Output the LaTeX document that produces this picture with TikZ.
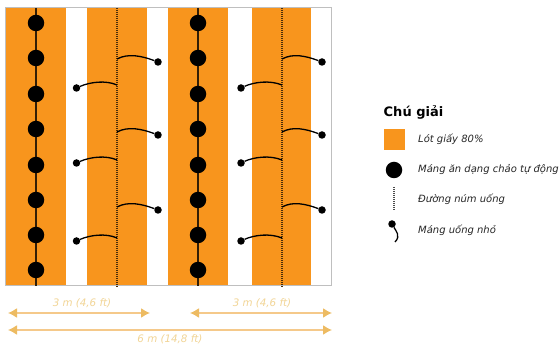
\documentclass[tikz,border=0pt]{standalone}
\usepackage{fontspec}
\setmainfont{DejaVu Sans}
\usetikzlibrary{arrows.meta}
\definecolor{paper}{HTML}{F8951D}
\definecolor{dimc}{HTML}{F5C98A}
\definecolor{dimh}{HTML}{EDBB62}
\definecolor{dimt}{HTML}{F2D596}
\tikzset{
 x=1pt,y=-1pt,
 stripe/.style={fill=paper,draw=none},
 feeder/.style={circle,fill=black,draw=none,minimum size=16.5pt,inner sep=0pt},
 cupdot/.style={circle,fill=black,draw=none,minimum size=7.5pt,inner sep=0pt},
 feedline/.style={line width=1.4pt,black!80!paper},
 nipple/.style={line width=1.5pt,black!70!paper,dash pattern=on 1pt off 1pt},
 cupline/.style={line width=1.3pt,black},
 legtext/.style={font=\fontsize{10}{12}\selectfont\itshape,anchor=west,inner sep=0pt,text=black!85},
 dimline/.style={line width=1.5pt,dimc,{Latex[length=9pt,width=10pt,color=dimh]}-{Latex[length=9pt,width=10pt,color=dimh]}},
 dimtext/.style={font=\fontsize{10.3}{12}\selectfont\itshape,text=dimt,inner sep=0pt},
}
\begin{document}
\begin{tikzpicture}
\useasboundingbox (0,0) rectangle (560,344);
\fill[white] (0,0) rectangle (560,344);
\foreach \a/\b in {6/66,87/147,168/228,252/311}{\fill[stripe] (\a,8) rectangle (\b,286);}
\draw[line width=1pt,black!25] (5.5,8) rectangle (331,286);
\coordinate (t1) at (36,8); \coordinate (b1) at (36,286);
\coordinate (t2) at (198,8); \coordinate (b2) at (198,286);
\coordinate (n1t) at (117,8); \coordinate (n1b) at (117,287);
\coordinate (n2t) at (282,8); \coordinate (n2b) at (282,287);
\draw[feedline] (t1)--(b1);
\draw[feedline] (t2)--(b2);
\draw[nipple] (n1t)--(n1b);
\draw[nipple] (n2t)--(n2b);
\foreach \y [count=\i] in {23,58,94,129,165,200,235,270}{
 \node[feeder] (fa\i) at (36,\y) {};
 \node[feeder] (fb\i) at (198,\y) {};
}
% left cups
\foreach \y [count=\i] in {88,163,241}{
 \node[cupdot] (la\i) at (76.5,\y) {};
 \node[cupdot] (lb\i) at (241,\y) {};
 \coordinate (lae\i) at (117,\y-3);
 \coordinate (lbe\i) at (282,\y-3);
 \draw[cupline] (la\i) .. controls (90,\y-6) and (106,\y-8) .. (lae\i);
 \draw[cupline] (lb\i) .. controls (254,\y-6) and (270,\y-8) .. (lbe\i);
}
% right cups
\foreach \y [count=\i] in {62,135,210}{
 \node[cupdot] (ra\i) at (158,\y) {};
 \node[cupdot] (rb\i) at (322,\y) {};
 \coordinate (rae\i) at (117,\y-3);
 \coordinate (rbe\i) at (282,\y-3);
 \draw[cupline] (rae\i) .. controls (128,\y-9) and (142,\y-6) .. (ra\i);
 \draw[cupline] (rbe\i) .. controls (293,\y-9) and (306,\y-6) .. (rb\i);
}
% dimensions
\coordinate (d1a) at (8,313); \coordinate (d1b) at (150,313);
\coordinate (d2a) at (190,313); \coordinate (d2b) at (332,313);
\coordinate (d3a) at (8,330); \coordinate (d3b) at (332,330);
\draw[dimline] (d1a)--(d1b);
\draw[dimline] (d2a)--(d2b);
\draw[dimline] (d3a)--(d3b);
\node[dimtext] (l1) at (82,303) {3 m (4,6 ft)};
\node[dimtext] (l2) at (262,303) {3 m (4,6 ft)};
\node[dimtext] (l3) at (170,339) {6 m (14,8 ft)};
% legend
\node[font=\fontsize{13}{15}\selectfont\bfseries,anchor=west,inner sep=0pt] (lt) at (383.5,112) {Chú giải};
\node[stripe,minimum size=21pt,inner sep=0pt] (k1) at (394,140) {};
\node[legtext] (k1t) at (418,139) {Lót giấy 80\%};
\node[circle,fill=black,minimum size=16.5pt,inner sep=0pt] (k2) at (394,170) {};
\node[legtext] (k2t) at (418,169.5) {Máng ăn dạng chảo tự động};
\coordinate (k3a) at (394,187); \coordinate (k3b) at (394,210);
\draw[line width=1.4pt,black!70,dash pattern=on 1pt off 1pt] (k3a)--(k3b);
\node[legtext] (k3t) at (418,199.5) {Đường núm uống};
\node[cupdot] (k4) at (392,224) {};
\coordinate (k4e) at (395,242);
\draw[cupline] (k4) .. controls (396,231) and (401,236) .. (k4e);
\node[legtext] (k4t) at (418,230.5) {Máng uống nhỏ};
\end{tikzpicture}
\end{document}
